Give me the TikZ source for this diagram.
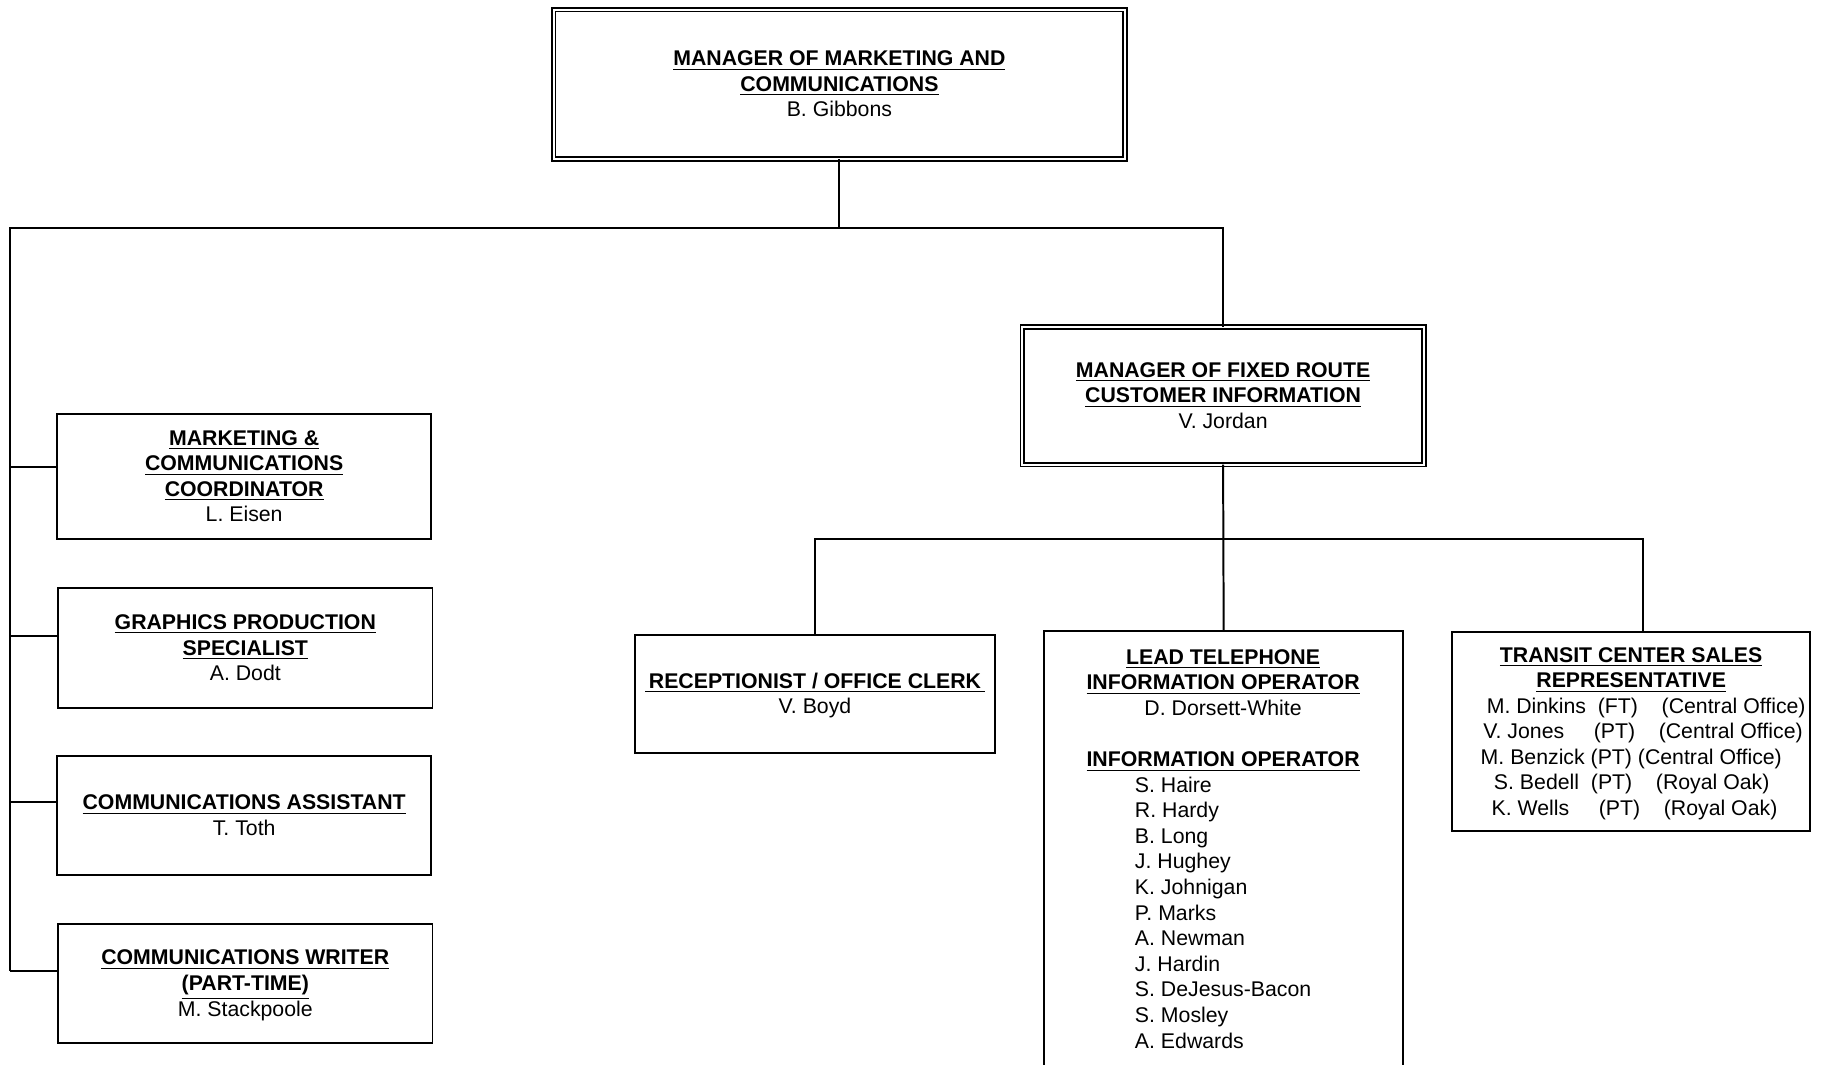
\documentclass[tikz,border=0pt]{standalone}
\usepackage{fontspec}
\setmainfont{Liberation Sans}
% bold underlined job title
\newcommand\jobtitle[1]{\underline{\textbf{#1}}}
% slightly taller strut for the first line of a box
\newcommand\topstrut{\rule{0pt}{9.2pt}}
% one staff row of the sales box: left offset, then the row text
\newcommand\salesrow[2]{\makebox[154pt][l]{\hspace*{#1}#2}}
\begin{document}
% keep every line on the fixed baseline grid
\lineskiplimit=-100pt
\begin{tikzpicture}[x=0.5pt,y=-0.5pt,
  line width=0.85pt,
  every node/.style={font=\fontsize{9.15}{11}\selectfont, inner sep=0pt, outer sep=0pt},
  box/.style={draw, line width=0.85pt, align=center},
  dbox/.style={draw, double, double distance=0.9pt, line width=0.7pt, align=center},
  wire/.style={line width=0.85pt}]
\useasboundingbox (0,0) rectangle (1568,916);
\clip (0,0) rectangle (1568,916);

% ---------- boxes ----------
\node[dbox, minimum width=245.7pt, minimum height=64.2pt] (top) at (722,72.5)
  {\topstrut\jobtitle{MANAGER OF MARKETING AND}\\ \jobtitle{COMMUNICATIONS}\\ B. Gibbons\strut};

\node[dbox, minimum width=172.7pt, minimum height=59.2pt] (fixed) at (1052,340.5)
  {\topstrut\jobtitle{MANAGER OF FIXED ROUTE}\\ \jobtitle{CUSTOMER INFORMATION}\\ V. Jordan\strut};

\node[box, minimum width=161pt, minimum height=54pt] (coord) at (210,410)
  {\topstrut\jobtitle{MARKETING \&}\\ \jobtitle{COMMUNICATIONS}\\ \jobtitle{COORDINATOR}\\ L. Eisen\strut};

\node[box, minimum width=161pt, minimum height=51.5pt] (graphics) at (211,557.5)
  {\topstrut\jobtitle{GRAPHICS PRODUCTION}\\ \jobtitle{SPECIALIST}\\ A. Dodt\strut};

\node[box, minimum width=161pt, minimum height=51.5pt] (assist) at (210,701.5)
  {\topstrut\jobtitle{COMMUNICATIONS ASSISTANT}\\ T. Toth\strut};

\node[box, minimum width=161pt, minimum height=51pt] (writer) at (211,846)
  {\topstrut\jobtitle{COMMUNICATIONS WRITER}\\ \jobtitle{(PART-TIME)}\\ M. Stackpoole\strut};

\node[box, minimum width=155pt, minimum height=51pt] (recep) at (701,597)
  {\topstrut\underline{\textbf{\,RECEPTIONIST / OFFICE CLERK\,}}\\ V. Boyd\strut};

% the information operator box runs past the lower edge
\node[box, minimum width=154.5pt, minimum height=201pt] (lead) at (1052.5,744) {};
\node[anchor=north, align=center] (leadtext) at (1052,556)
  {\strut\jobtitle{LEAD TELEPHONE}\\ \jobtitle{INFORMATION OPERATOR}\\ D. Dorsett-White\\[11pt]
   \jobtitle{INFORMATION OPERATOR}\\
   {\lineskiplimit=0pt\relax
   \begin{tabular}[t]{@{}l@{}}
   S. Haire\\ R. Hardy\\ B. Long\\ J. Hughey\\ K. Johnigan\\ P. Marks\\
   A. Newman\\ J. Hardin\\ S. DeJesus-Bacon\\ S. Mosley\\ A. Edwards
   \end{tabular}}};

\node[box, minimum width=154pt, minimum height=85.5pt] (transit) at (1403,629.5)
  {\topstrut\jobtitle{TRANSIT CENTER SALES}\\ \jobtitle{REPRESENTATIVE}\\
   \salesrow{14.9pt}{M. Dinkins\ \ (FT)\ \ \ \ (Central Office)}\\
   \salesrow{13.45pt}{V. Jones\ \ \ \ \ (PT)\ \ \ \ (Central Office)}\\
   \salesrow{12.3pt}{M. Benzick (PT) (Central Office)}\\
   \salesrow{18pt}{S. Bedell\ \ (PT)\ \ \ \ (Royal Oak)}\\
   \salesrow{17pt}{K. Wells\ \ \ \ \ (PT)\ \ \ \ (Royal Oak)\strut}};

% ---------- connectors ----------
\coordinate (j1) at (9,196);
\coordinate (s1) at (9,402);
\coordinate (s2) at (9,547);
\coordinate (s3) at (9,690);
\coordinate (s4) at (9,835);
\coordinate (k1) at (701,464);
\coordinate (k2) at (1413,464);

\draw[wire] (top.south) -- (top.south |- j1);
\draw[wire] (fixed.north) -- (fixed.north |- j1) -- (j1) -- (s4);
\draw[wire] (s1) -- (s1 -| coord.west);
\draw[wire] (s2) -- (s2 -| graphics.west);
\draw[wire] (s3) -- (s3 -| assist.west);
\draw[wire] (s4) -- (s4 -| writer.west);

\draw[wire] (fixed.south) -- (lead.north);
\draw[wire] (recep.north) -- (k1) -- (k2) -- (k2 |- transit.north);
\end{tikzpicture}
\end{document}
